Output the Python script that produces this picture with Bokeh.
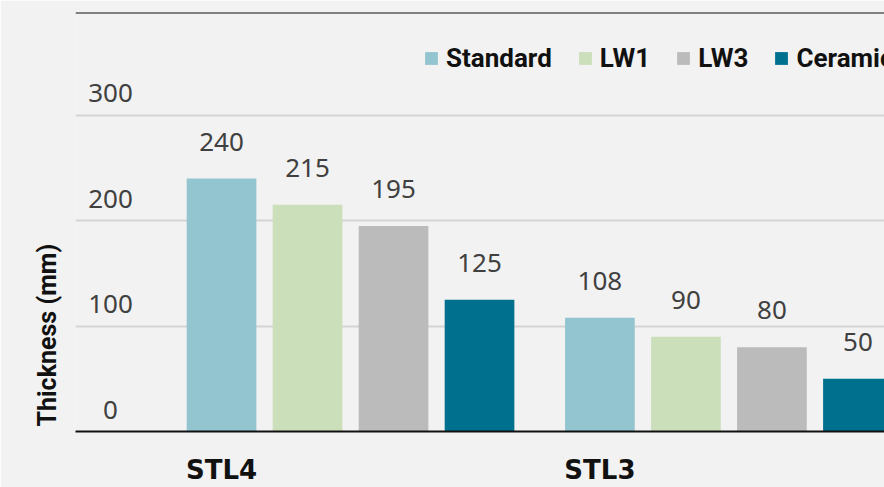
from bokeh.plotting import figure
from bokeh.models import ColumnDataSource, Range1d, FixedTicker, Span, Title
from bokeh.core.properties import value
from bokeh.embed import file_html
from bokeh.resources import INLINE

# ---- data ----
groups = ["STL4", "STL3"]
series = ["Standard", "LW1", "LW3", "Ceramic"]
standard = [240, 108]
lw1 = [215, 90]
lw3 = [195, 80]
ceramic = [125, 50]
series_values = [standard, lw1, lw3, ceramic]
colors = ["#92C5D0", "#CCDFBB", "#BBBBBB", "#00708F"]
y_ticks = [0, 100, 200, 300]
y_title = "Thickness (mm)"

# ---- layout constants ----
GROUP_STEP = 4.4
BAR_W = 0.81
X_START, X_END = -1.698, 7.709
Y_MAX = 397.5
BG = "#F2F2F2"
NUM_COLOR = "#404040"
DARK = "#111111"

p = figure(width=884, height=487, output_backend="svg", toolbar_location=None,
           x_range=Range1d(X_START, X_END), y_range=Range1d(0, Y_MAX),
           y_axis_location=None,
           min_border_left=75, min_border_right=0, min_border_top=12,
           min_border_bottom=55)
p.background_fill_color = BG
p.border_fill_color = BG
p.outline_line_color = None

group_pos = [g * GROUP_STEP for g in range(len(groups))]

for s, (name, vals, col) in enumerate(zip(series, series_values, colors)):
    xs = [gp + s for gp in group_pos]
    src = ColumnDataSource(dict(x=xs, top=vals, label=[str(v) for v in vals]))
    p.vbar(x="x", top="top", bottom=0, width=BAR_W, source=src,
           fill_color=col, line_color=None, legend_label=name)
    p.text(x="x", y="top", text="label", source=src, y_offset=-37,
           text_align="center", text_baseline="alphabetic",
           text_font=value("Noto Sans"), text_font_size="26px",
           text_color=NUM_COLOR)

# y tick labels drawn inside the frame above grid lines
tsrc = ColumnDataSource(dict(x=[X_START] * len(y_ticks), y=y_ticks,
                             t=[str(t) for t in y_ticks]))
p.text(x="x", y="y", text="t", source=tsrc, x_offset=35, y_offset=-22,
       text_align="center", text_baseline="alphabetic",
       text_font=value("Noto Sans"), text_font_size="26px", text_color=NUM_COLOR)

# grid
p.xgrid.visible = False
p.ygrid.ticker = FixedTicker(ticks=[t for t in y_ticks if t > 0])
p.ygrid.grid_line_color = "#D4D4D4"
p.ygrid.grid_line_width = 2

# x axis
p.xaxis.ticker = FixedTicker(ticks=group_pos)
p.xaxis.major_label_overrides = {gp: g for gp, g in zip(group_pos, groups)}
p.xaxis.axis_line_color = DARK
p.xaxis.axis_line_width = 2
p.xaxis.major_tick_line_color = None
p.xaxis.minor_tick_line_color = None
p.xaxis.major_tick_out = 0
p.xaxis.major_tick_in = 0
p.xaxis.major_label_standoff = 23
p.xaxis.major_label_text_font = "DejaVu Sans"
p.xaxis.major_label_text_font_style = "bold"
p.xaxis.major_label_text_font_size = "26px"
p.xaxis.major_label_text_color = DARK

# top rule
p.add_layout(Span(location=Y_MAX, dimension="width", line_color=DARK,
                  line_width=2))

# y title, bottom-aligned in the left border
p.add_layout(Title(text=y_title, align="left", offset=5, standoff=27,
                   text_font="Roboto", text_font_style="bold",
                   text_font_size="25px", text_color=DARK), "left")

# legend
lg = p.legend[0]
lg.orientation = "horizontal"
lg.location = (348, 358)
lg.glyph_width = 16
lg.glyph_height = 16
lg.label_standoff = 7
lg.spacing = 25
lg.padding = 0
lg.margin = 0
lg.border_line_color = None
lg.background_fill_alpha = 0
lg.label_text_font = "Roboto"
lg.label_text_font_style = "bold"
lg.label_text_font_size = "26px"
lg.label_text_color = DARK
lg.label_height = 16

html = file_html(p, INLINE)
html = html.replace("<body>", '<body style="background:#F2F2F2">', 1)
open("out.html", "w").write(html)
